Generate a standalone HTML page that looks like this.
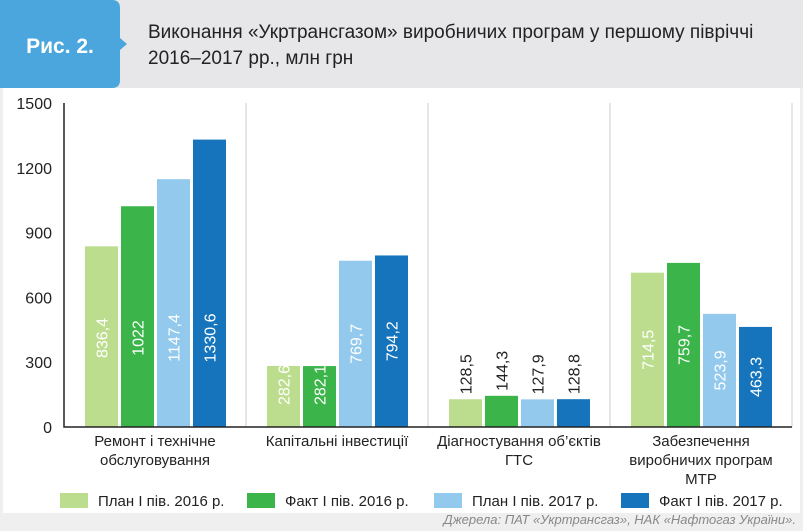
<!DOCTYPE html>
<html><head><meta charset="utf-8"><style>
body{margin:0;width:803px;height:531px;overflow:hidden;background:#fff;font-family:"Liberation Sans",sans-serif}
svg{display:block}
</style></head><body>
<svg width="803" height="531" xmlns="http://www.w3.org/2000/svg">
<rect x="0" y="0" width="803" height="531" fill="#efeff0"/>
<rect x="3" y="88" width="797" height="425" fill="#fff"/>
<rect x="0" y="0" width="803" height="88" fill="#e7e7e9"/>
<path d="M0,0 H112 Q120,0 120,8 V38 L127,44 L120,50 V80 Q120,88 112,88 H0 Z" fill="#4aa6dd"/>
<text x="60" y="53" text-anchor="middle" font-size="21" font-weight="bold" fill="#fff">Рис. 2.</text>
<text x="148" y="38" font-size="19" fill="#222">Виконання «Укртрансгазом» виробничих програм у першому півріччі</text>
<text x="148" y="64" font-size="19" fill="#222">2016–2017 рр., млн грн</text>
<g id="plot"></g>
<text x="796" y="524" text-anchor="end" font-size="13" font-style="italic" fill="#888">Джерела: ПАТ «Укртрансгаз», НАК «Нафтогаз України».</text>
</svg>
<script>
const categories=[["Ремонт і технічне","обслуговування"],["Капітальні інвестиції"],["Діагностування об’єктів","ГТС"],["Забезпечення","виробничих програм","МТР"]];
const plan2016=[836.4,282.6,128.5,714.5];
const fact2016=[1022,282.1,144.3,759.7];
const plan2017=[1147.4,769.7,127.9,523.9];
const fact2017=[1330.6,794.2,128.8,463.3];
const seriesNames=["План І пів. 2016 р.","Факт І пів. 2016 р.","План І пів. 2017 р.","Факт І пів. 2017 р."];
const yTicks=[0,300,600,900,1200,1500];
const colors=["#bcdd8e","#3bb54a","#93c9ec","#1574bc"];
const NS="http://www.w3.org/2000/svg";
const g=document.getElementById('plot');
const x0=64,gw=182,y0=427,y1=103,ymax=1500;
const y=v=>y0-(v/ymax)*(y0-y1);
function el(t,a,txt){const e=document.createElementNS(NS,t);for(const k in a)e.setAttribute(k,a[k]);if(txt!=null)e.textContent=txt;g.appendChild(e);return e;}
yTicks.forEach(t=>{
 const e=el('text',{x:52,y:y(t)+6,'text-anchor':'end','font-size':16,fill:'#222'},String(t));
 
 
});
for(let i=1;i<=categories.length;i++){
 const l=el('line',{x1:x0+gw*i,y1:y1,x2:x0+gw*i,y2:y0,stroke:'#ccc','stroke-width':1});
 
 
}
const series=[plan2016,fact2016,plan2017,fact2017];
categories.forEach((c,ci)=>{
 series.forEach((s,si)=>{
  const v=s[ci];const bx=x0+gw*ci+21+si*36;const top=y(v);
  const r=el('rect',{x:bx,y:top,width:33,height:y0-top,fill:colors[si]});
  
  
  const lbl=String(v).replace('.',',');
  const cx=bx+16.5+6;
  let t;
  if(y0-top<50){
   t=el('text',{x:cx,y:top-5,'font-size':16,fill:'#222',transform:`rotate(-90 ${cx} ${top-5})`},lbl);
  }else{
   let cy=Math.min(Math.max((top+y0)/2,338),385);
   t=el('text',{x:cx,y:cy,'text-anchor':'middle','font-size':16,fill:'#fff',transform:`rotate(-90 ${cx} ${cy})`},lbl);
  }
  
  
 });
 c.forEach((line,li)=>{
  const t=el('text',{x:x0+gw*ci+gw/2,y:446+li*19,'text-anchor':'middle','font-size':15,fill:'#222'},line);
  
  
 });
});
const ax=el('path',{d:`M${x0},${y1} V${y0} H${x0+gw*4}`,fill:'none',stroke:'#222','stroke-width':1.5});


seriesNames.forEach((n,i)=>{
 const lx=60+i*187;
 const r=el('rect',{x:lx,y:493,width:28,height:15,fill:colors[i]});
 
 
 const t=el('text',{x:lx+38,y:506,'font-size':15,fill:'#222'},n);
 
 
});
</script>
</body></html>
